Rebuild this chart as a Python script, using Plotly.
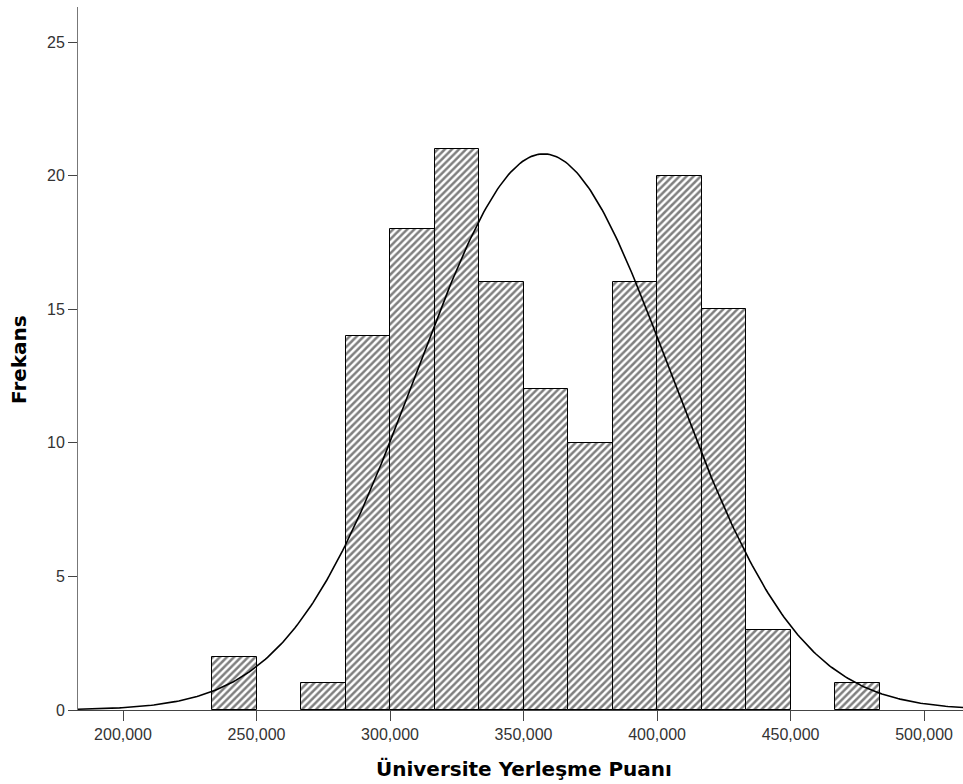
import numpy as np
import plotly.graph_objects as go

# Histogram data
bin_start = 233333.0
bin_width = 16666.7
counts = [2, 0, 1, 14, 18, 21, 16, 12, 10, 16, 20, 15, 3, 0, 1]
# Normal curve parameters (estimated)
curve_mean = 357500.0
curve_sd = 47600.0
n_total = sum(counts)

x_tickvals = [200000, 250000, 300000, 350000, 400000, 450000, 500000]
y_tickvals = [0, 5, 10, 15, 20, 25]

centers = [bin_start + bin_width * (i + 0.5) for i in range(len(counts))]
bar_y = [c if c > 0 else None for c in counts]

xs = np.linspace(180000, 520000, 400)
ys = n_total * bin_width / (curve_sd * np.sqrt(2 * np.pi)) * np.exp(-0.5 * ((xs - curve_mean) / curve_sd) ** 2)

fig = go.Figure()
fig.add_trace(go.Bar(
    x=centers, y=bar_y, width=bin_width,
    marker=dict(color="white", line=dict(color="black", width=1),
                pattern=dict(shape="/", fgcolor="black", bgcolor="white", size=5, solidity=0.5)),
    showlegend=False, hoverinfo="skip"))
fig.add_trace(go.Scatter(x=xs, y=ys, mode="lines", line=dict(color="black", width=1.6),
                         showlegend=False, hoverinfo="skip"))

fig.update_layout(
    width=963, height=784,
    margin=dict(l=78, r=0, t=7, b=74, autoexpand=False),
    plot_bgcolor="white", paper_bgcolor="white",
    font=dict(family="Liberation Sans, Arial, sans-serif", size=16, color="#222"),
    bargap=0,
    annotations=[
        dict(text="<b>Üniversite Yerleşme Puanı</b>", xref="paper", yref="paper",
             x=(524 - 78) / 885, y=-(769 - 710) / 703, xanchor="center", yanchor="middle",
             showarrow=False, font=dict(family="DejaVu Sans, Verdana, sans-serif", size=20, color="black")),
        dict(text="<b>Frekans</b>", xref="paper", yref="paper",
             x=-(78 - 19) / 885, y=(710 - 360) / 703, xanchor="center", yanchor="middle",
             textangle=-90, showarrow=False,
             font=dict(family="DejaVu Sans, Verdana, sans-serif", size=20, color="black")),
    ],
)
fig.update_xaxes(
    range=[183146, 514580], tickvals=x_tickvals, tickformat=",d", automargin=False,
    showline=True, linecolor="#444", linewidth=1, ticks="outside", ticklen=10, tickcolor="#444",
    showgrid=False, zeroline=False,
    tickfont=dict(size=16, color="#333"),
)
fig.update_yaxes(
    range=[0, 26.31], tickvals=y_tickvals, automargin=False,
    showline=True, linecolor="#777", linewidth=1, ticks="outside", ticklen=9, tickcolor="#444",
    showgrid=False, zeroline=False,
    tickfont=dict(size=16, color="#333"),
)

fig.write_html("out.html", config={"displayModeBar": False},
               post_script="document.body.style.margin='0';document.body.style.overflow='hidden';")
